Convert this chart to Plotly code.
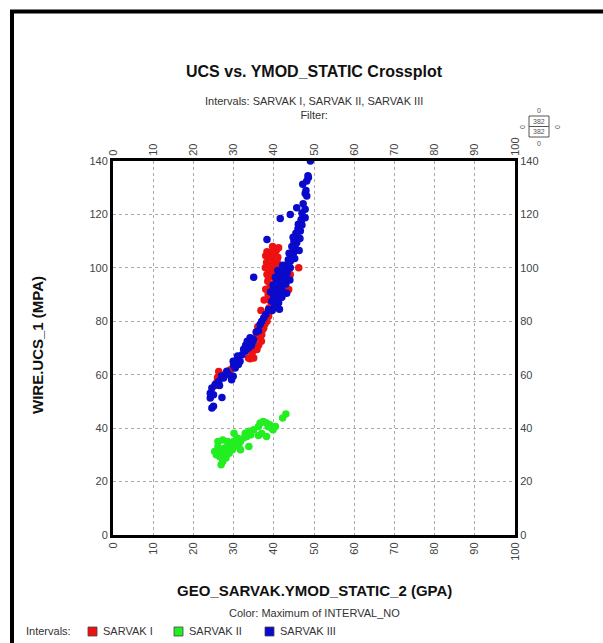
import plotly.graph_objects as go

# ---- data ----
red_pts = [(25.5,56.0),(25.9,57.5),(26.3,61.2),(26.0,59.0),(27.0,60.0),(29.2,61.9),(28.6,60.5),
           (33.7,66.3),(34.1,66.0),(35.0,66.3),(34.6,68.0),(35.4,69.4),(35.8,69.4),(36.2,71.0),
           (36.6,73.8),(36.9,72.5),(37.0,75.0),(36.4,76.0),(37.5,77.5),(37.2,76.8),(37.8,79.0),
           (38.3,80.0),(37.9,81.0),(38.7,81.9),(38.4,83.0),(39.1,83.8),(38.8,85.0),(39.5,86.3),
           (39.2,87.5),(39.1,88.8),(38.6,90.0),(39.5,91.3),(39.8,92.0),(39.1,93.8),(38.5,95.0),
           (38.7,96.3),(39.3,97.0),(39.1,98.8),(39.9,100.0),(40.3,99.0),(38.7,101.0),(38.2,102.0),
           (40.8,102.5),(39.9,103.8),(40.4,104.5),(39.1,105.0),(41.2,107.5),(40.6,106.5),(38.3,106.0),
           (39.7,108.0),(37.9,100.0),(38.3,97.5),(39.0,99.5),(40.8,97.5),(40.4,95.0),(41.2,92.5),
           (40.0,101.5),(43.7,91.9),(46.2,100.0),(44.1,97.5),(40.2,94.0),(39.6,97.8),(41.0,104.0),
           (38.9,103.0),(37.6,88.0),(36.8,84.0),(36.0,78.0),(35.5,74.0),(34.8,70.5),(38.0,92.0),
           (39.4,102.0),(40.5,100.5),(38.0,104.5),(39.8,106.0)]

green_pts = [(43.0,45.3),(42.2,43.8),(40.4,40.6),(39.8,39.4),(39.0,41.3),(38.2,41.9),(37.4,42.5),
             (36.6,41.9),(36.2,40.6),(38.2,36.9),(36.2,37.2),(35.0,39.4),(33.8,38.8),(32.9,38.1),
             (33.3,36.9),(32.5,36.3),(33.8,33.1),(31.7,35.0),(30.9,36.3),(30.1,38.1),(31.3,33.1),
             (31.7,31.9),(30.5,33.8),(29.3,34.4),(28.5,35.0),(27.3,35.6),(26.1,35.0),(25.3,31.3),
             (25.7,30.0),(26.5,29.4),(26.9,31.9),(27.7,32.5),(27.3,27.5),(26.9,26.3),(28.1,28.8),
             (28.9,30.6),(29.7,31.9),(26.1,33.1),(27.7,30.0),(28.5,33.1),(39.5,40.0),(38.6,40.5),
             (37.0,38.0),(34.3,37.5),(30.0,35.0),(28.0,31.5),(27.0,29.0)]

blue_pts = [(24.6,47.5),(25.0,48.2),(24.2,51.3),(24.2,53.1),(24.6,55.0),(25.4,56.3),(26.3,57.5),
            (27.1,51.5),(27.5,58.8),(28.3,61.3),(29.9,59.4),(29.5,58.1),(30.4,62.5),(29.9,65.0),
            (30.8,65.6),(31.6,65.0),(31.2,63.8),(32.1,67.5),(32.9,68.8),(33.7,70.0),(34.6,71.9),
            (34.1,73.8),(35.0,73.1),(33.4,72.5),(34.4,70.8),(35.6,76.0),(36.6,78.8),(37.5,81.3),
            (38.7,84.4),(39.5,87.5),(39.9,90.0),(40.8,91.3),(41.6,88.8),(41.2,86.9),(40.3,92.5),
            (42.1,93.8),(42.9,96.3),(43.3,98.1),(44.1,100.0),(44.1,102.5),(44.5,104.4),(44.9,105.6),
            (45.3,107.5),(45.7,109.4),(46.1,111.3),(46.6,113.8),(46.1,116.3),(46.9,118.1),(47.8,118.8),
            (45.7,122.5),(47.8,121.9),(41.6,118.5),(44.1,120.0),(48.2,126.9),(47.8,127.8),(48.2,132.5),
            (48.6,133.8),(47.2,131.3),(49.1,140.0),(38.3,110.6),(35.0,96.5),(40.0,85.0),(40.5,88.0),
            (41.0,90.0),(41.5,91.0),(42.0,92.0),(40.7,94.5),(41.5,95.5),(42.5,97.5),(43.0,100.0),
            (43.5,101.5),(42.7,99.0),(41.8,97.0),(40.2,89.5),(39.6,84.0),(40.6,86.0),(41.4,84.5),
            (42.0,89.0),(43.0,94.0),(44.5,108.0),(45.0,110.0),(46.5,111.0),(46.0,114.5),(47.0,116.0),
            (47.3,124.0),(47.0,120.5),(46.3,106.5),(45.2,103.5),(44.0,95.5),(43.2,90.5),(38.0,82.5),
            (37.0,80.0),(36.2,76.5),(33.0,71.0),(32.5,69.5),(31.0,67.0),(30.0,63.5),(28.8,60.0),
            (26.5,56.0),(25.0,52.5),(27.0,59.5),(39.2,91.0),(39.8,93.5),(40.4,96.5),(41.0,99.0),
            (42.2,101.0),(43.8,105.5),(48.5,134.5),(48.0,129.0),(46.8,118.0),(45.5,113.0),(44.8,111.5),
            (40.9,93.0),(41.8,94.5),(42.4,95.0),(40.1,91.5),(41.3,97.5),(43.6,103.0)]

series_names = ["SARVAK I", "SARVAK II", "SARVAK III"]
series_pts = [red_pts, green_pts, blue_pts]
series_colors = ["#ee1111", "#22ee22", "#0a0acc"]

x_ticks = list(range(0, 101, 10))
y_ticks = list(range(0, 141, 20))

FONT = "Arial, Liberation Sans, sans-serif"

fig = go.Figure()
for name, pts, col in zip(series_names, series_pts, series_colors):
    fig.add_trace(go.Scatter(
        x=[p[0] for p in pts], y=[p[1] for p in pts], mode="markers", name=name,
        marker=dict(color=col, size=7.5, symbol="circle", line=dict(width=0)),
        showlegend=False,
    ))
# helper trace so the mirrored top/right axes are drawn
fig.add_trace(go.Scatter(x=[None], y=[None], xaxis="x2", yaxis="y2",
                         showlegend=False, hoverinfo="skip"))

# pixel->paper helpers
L, R, T, B = 113, 515, 161, 535
def px(x): return (x - L) / (R - L)
def py(y): return (B - y) / (B - T)

tickfont = dict(family=FONT, size=11, color="#444")
axis_common = dict(showline=True, linecolor="black", linewidth=3, ticks="",
                   tickfont=tickfont, zeroline=False)

fig.update_layout(
    width=603, height=643,
    margin=dict(l=L, r=603 - R, t=T, b=643 - B),
    paper_bgcolor="white", plot_bgcolor="white",
    font=dict(family=FONT),
    xaxis=dict(range=[0, 100], tickvals=x_ticks, tickangle=-90, mirror=True,
               showgrid=True, gridcolor="#aaa", griddash="dot", gridwidth=1, **axis_common),
    yaxis=dict(range=[0, 140], tickvals=y_ticks, mirror=True,
               showgrid=True, gridcolor="#aaa", griddash="dot", gridwidth=1, **axis_common),
    xaxis2=dict(range=[0, 100], tickvals=x_ticks, tickangle=-90, overlaying="x", side="top",
                showgrid=False, **axis_common),
    yaxis2=dict(range=[0, 140], tickvals=y_ticks, overlaying="y", side="right",
                showgrid=False, **axis_common),
    showlegend=False,
)

annos = [
    dict(text="<b>UCS vs. YMOD_STATIC Crossplot</b>", x=px(314), y=py(72), size=16, color="#111"),
    dict(text="Intervals: SARVAK I, SARVAK II, SARVAK III<br>Filter:", x=px(314), y=py(108), size=11, color="#333"),
    dict(text="<b>GEO_SARVAK.YMOD_STATIC_2 (GPA)</b>", x=px(314), y=py(590), size=15, color="#111"),
    dict(text="Color: Maximum of INTERVAL_NO", x=px(314), y=py(613), size=11, color="#333"),
    dict(text="<b>WIRE.UCS_1 (MPA)</b>", x=px(37), y=py(345), size=15, color="#111", textangle=-90),
    dict(text="0", x=px(539), y=py(111), size=7, color="#555"),
    dict(text="382", x=px(539), y=py(121.5), size=7, color="#555"),
    dict(text="382", x=px(539), y=py(132), size=7, color="#555"),
    dict(text="0", x=px(539), y=py(143), size=7, color="#555"),
    dict(text="0", x=px(522), y=py(127), size=7, color="#555", textangle=-90),
    dict(text="0", x=px(557), y=py(127), size=7, color="#555", textangle=-90),
]
for a in annos:
    fig.add_annotation(text=a["text"], x=a["x"], y=a["y"], xref="paper", yref="paper",
                       showarrow=False, xanchor="center", yanchor="middle",
                       textangle=a.get("textangle", 0),
                       font=dict(size=a["size"], color=a["color"], family=FONT))

# manual legend row along the bottom
fig.add_annotation(text="Intervals:", x=px(24), y=py(631), xref="paper", yref="paper",
                   showarrow=False, xanchor="left", yanchor="middle",
                   font=dict(size=11, color="#333", family=FONT))
legend_square_x = [88, 174, 265]
for name, col, sx in zip(series_names, series_colors, legend_square_x):
    fig.add_shape(type="rect", xref="paper", yref="paper",
                  x0=px(sx), x1=px(sx + 9), y0=py(636), y1=py(627),
                  line=dict(color="#444", width=0.8), fillcolor=col)
    fig.add_annotation(text=name, x=px(sx + 13), y=py(631), xref="paper", yref="paper",
                       showarrow=False, xanchor="left", yanchor="middle",
                       font=dict(size=11, color="#333", family=FONT))

# outer frame
fig.add_shape(type="rect", xref="paper", yref="paper",
              x0=px(12), x1=px(606), y0=py(648), y1=py(11.5),
              line=dict(color="black", width=4), fillcolor="rgba(0,0,0,0)")
# small count box
fig.add_shape(type="rect", xref="paper", yref="paper",
              x0=px(529), x1=px(549), y0=py(137), y1=py(116),
              line=dict(color="#555", width=1))
fig.add_shape(type="line", xref="paper", yref="paper",
              x0=px(529), x1=px(549), y0=py(126.5), y1=py(126.5),
              line=dict(color="#555", width=1))

fig.write_html("out.html")
